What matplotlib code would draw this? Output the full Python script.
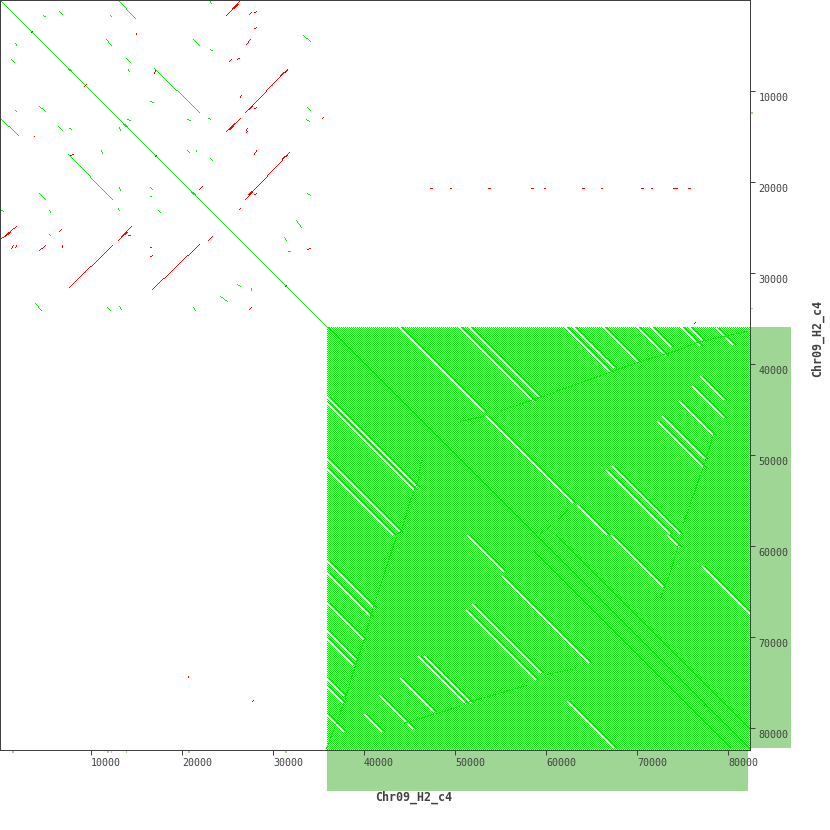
import numpy as np
import matplotlib
matplotlib.use("Agg")
import matplotlib.pyplot as plt
from matplotlib.patches import Rectangle
from matplotlib.transforms import ScaledTranslation

# all coordinates in bp: x0, y0, x1, y1
seq_len = 82417.5
block_start = 35950
repeat_period = 219.78  # spacing of the tandem repeat lines in the big block
bp_per_cell = repeat_period / 2
n_cells = 750

tick_values = [10000, 20000, 30000, 40000, 50000, 60000, 70000, 80000]
tick_labels = ["10000", "20000", "30000", "40000", "50000", "60000", "70000", "80000"]
seq_name = "Chr09_H2_c4"

forward_mirrored = [
    (13000, 70, 14840, 2050), (4760, 1650, 4950, 1830), (6590, 1210, 6890, 1540),
    (12090, 1650, 12270, 1830), (23080, 110, 23260, 370), (11720, 4290, 12270, 4950),
    (21250, 4290, 21870, 4950), (23150, 5420, 23370, 5600), (33330, 3850, 34070, 4580),
    (13850, 6480, 14290, 6920), (14100, 7690, 14250, 7880), (17030, 7580, 21870, 12380),
    (33770, 11790, 34070, 12090), (20590, 13080, 20880, 13260), (22890, 12970, 23080, 13110),
    (33630, 13080, 33960, 13370), (13990, 13110, 14290, 13260), (20590, 16590, 20770, 16780),
    (21570, 16590, 21620, 16670), (23080, 17400, 23370, 17690), (33770, 21250, 34070, 21500),
    (32530, 24180, 33150, 24950), (31250, 26080, 31500, 26450), (31680, 27620, 31870, 27660),
    (16590, 11100, 16850, 11280), (29880, 9450, 29960, 9380),
]
forward_extra = [(5420, 25750, 5600, 25930)]

reverse_hits = [
    (24910, 1720, 26370, 110), (27400, 1610, 27660, 1390), (28020, 1390, 28210, 1250),
    (28020, 3150, 28210, 3000), (14950, 3770, 15030, 3730), (27110, 4870, 27550, 4320),
    (25200, 6780, 25460, 6520), (26150, 6520, 26340, 6410), (26410, 10730, 26560, 10510),
    (27000, 12380, 31570, 7620), (28020, 11940, 28210, 11790), (24910, 14430, 26450, 13000),
    (27110, 14290, 27220, 14100), (27110, 14580, 27220, 14430), (35460, 13000, 35570, 12860),
    (28020, 16960, 28240, 16590), (27000, 21870, 31790, 16740), (28020, 21360, 28210, 21250),
    (21900, 20770, 22200, 20480), (26300, 23000, 26480, 22890), (22890, 26450, 23300, 26040),
    (16780, 31790, 21870, 26920), (33810, 27470, 34070, 27360), (27400, 33990, 27660, 33770),
    (70, 26300, 1760, 24840), (6520, 25460, 6810, 25200), (13000, 26450, 14470, 24840),
    (14100, 25930, 14360, 25860), (1210, 27330, 1500, 27030), (1650, 27180, 1830, 27030),
    (4320, 27550, 4950, 27030), (6850, 27030, 6850, 27250), (7620, 31570, 12380, 26960),
    (16590, 27180, 16660, 27180), (16590, 28210, 16810, 28060), (3770, 14950, 3840, 14950),
    (3450, 3590, 3590, 3450), (9340, 9480, 9480, 9340), (17070, 17210, 17210, 17070),
    (31360, 31500, 31500, 31360), (17030, 8100, 17120, 7700), (7700, 17120, 8100, 17030),
    (76370, 35500, 76390, 35400), (77450, 77500, 77500, 77450),
    (20660, 74450, 20680, 74300), (27800, 77080, 27820, 76950),
]
reverse_thick = [
    (25640, 920, 26080, 440), (25200, 14200, 25800, 13600), (27350, 12000, 27600, 11700),
    (30800, 8300, 31450, 7750), (27350, 21400, 27650, 21050), (31000, 17400, 31500, 17050),
    (13400, 26000, 13900, 25500), (500, 26000, 1000, 25600),
]

row_y = 20700
row_x = [47330, 49480, 53630, 58460, 59810, 63960, 66080, 70440, 71570, 74000, 75710]
row_w = [220, 110, 220, 220, 110, 220, 110, 220, 110, 450, 220]

# white gaps in the repeat lattice, each with a solid line beside it
gap_stripes = [
    (43773, 35971, 53114, 45421), (53480, 45788, 63004, 55312), (63370, 55495, 66667, 58608),
    (50549, 35971, 58608, 44030), (51465, 35971, 59158, 43663), (62088, 35971, 67216, 41099),
    (63004, 35971, 67582, 40550), (66300, 35971, 70257, 39927), (69964, 35971, 73077, 39084),
    (71429, 35971, 73627, 38169), (74908, 35971, 76923, 37986), (75824, 35971, 77290, 37436),
    (78755, 36081, 80586, 37912), (35898, 43663, 45788, 53553), (35898, 44323, 45421, 53846),
    (35898, 50366, 43956, 58425), (35898, 51465, 43224, 58791), (74542, 44066, 78388, 47912),
    (72711, 45788, 77472, 50549), (72161, 46337, 77290, 51465), (76923, 41392, 79670, 44139),
    (76007, 42491, 79487, 45971), (66667, 51649, 73627, 58608), (67216, 51282, 74725, 58791),
    (51282, 58901, 55312, 62930), (55129, 63370, 64652, 72894), (67216, 58901, 72894, 64578),
    (73260, 58901, 74542, 60183), (77106, 62271, 82417, 67582), (35898, 61721, 41026, 66850),
    (35898, 63003, 40660, 67765), (35898, 66300, 39927, 70329), (35898, 69414, 39011, 72527),
    (35898, 70146, 38828, 73077), (35898, 74542, 37912, 76557), (35898, 75458, 37729, 77289),
    (35898, 78571, 37912, 80586), (51282, 67033, 58975, 74725), (51832, 66483, 59341, 73992),
    (45971, 72161, 51282, 77472), (46520, 72161, 51649, 77289), (43956, 74542, 47802, 78388),
    (41758, 76374, 45421, 80036), (39927, 78571, 41941, 80586), (62271, 77106, 67399, 82234),
]
solid_stripes = [
    (block_start, block_start, seq_len, seq_len),
    (58608, 60623, 80220, 82234), (60989, 58901, 82417, 80329),
]
indel_curves = [
    [(55129, 45055), (58975, 43773), (66667, 41026), (70330, 39744), (73993, 38645), (76923, 37546), (82051, 36447)],
    [(50549, 46337), (53114, 45788)],
    [(46337, 50549), (45971, 52747), (45055, 54945), (44139, 58242), (43590, 58974), (41026, 66666),
     (39927, 70513), (38828, 73809), (37729, 77472), (35898, 82234)],
    [(59341, 58608), (60806, 57509), (63004, 55495), (64103, 54396)],
    [(59341, 58974), (55312, 63003), (53114, 65201)],
    [(78388, 47802), (77472, 50916), (75824, 55678), (75092, 57509)],
    [(74542, 59890), (73627, 62820), (72528, 65751)],
    [(60073, 74175), (63370, 73443)],
    [(50916, 77289), (57876, 75275)],
    [(44323, 79487), (50549, 77655)],
]
diagonal_blobs = [(13700, 13950), (21150, 21400), (7600, 7750)]

coverage_x = [1300, 11800, 12150, 13800, 20700, 31300]
coverage_y = [12300, 33800]

dark = "#404040"
band = "#a0d695"
WHITE, GREEN, RED = 0, 1, 2
palette = np.array([[255, 255, 255], [0, 240, 0], [255, 0, 0]], dtype=np.uint8)

# the dot plot is a grid of one-pixel cells, every hit sets the cells it runs through
canvas = np.zeros((n_cells, n_cells), dtype=int)


def to_cell(v):
    return int(np.clip(v / bp_per_cell, 0, n_cells - 1))


def draw(x0, y0, x1, y1, value, shift=0):
    i0, j0, i1, j1 = to_cell(x0), to_cell(y0), to_cell(x1), to_cell(y1)
    n = max(abs(i1 - i0), abs(j1 - j0)) + 1
    ii = np.round(np.linspace(i0, i1, n)).astype(int) + shift
    jj = np.round(np.linspace(j0, j1, n)).astype(int)
    keep = (ii >= 0) & (ii < n_cells)
    canvas[jj[keep], ii[keep]] = value


def draw_on_even_line(x0, y0, x1, y1, value, shift=0):
    # stripes inside the block sit on the x - y lines of the lattice
    i0, j0 = to_cell(x0), to_cell(y0)
    length = to_cell(x1) - i0
    if (i0 - j0) % 2:
        i0 += 1
    for step in range(length):
        i, j = i0 + step + shift, j0 + step
        if 0 <= i < n_cells and 0 <= j < n_cells:
            canvas[j, i] = value


# repeat lattice
first = to_cell(block_start)
n_lines = (n_cells - first) // 2
for k in range(-n_lines, n_lines + 1):
    x0 = max(first, first + 2 * k)
    y0 = x0 - 2 * k
    d = n_cells - 1 - max(x0, y0)
    draw((x0 + 0.5) * bp_per_cell, (y0 + 0.5) * bp_per_cell,
         (x0 + d + 0.5) * bp_per_cell, (y0 + d + 0.5) * bp_per_cell, GREEN)

for s in gap_stripes:
    draw_on_even_line(*s, WHITE)
    draw_on_even_line(*s, GREEN, shift=3)
for s in solid_stripes:
    draw_on_even_line(*s, GREEN, shift=1)
for curve in indel_curves:
    for (xa, ya), (xb, yb) in zip(curve[:-1], curve[1:]):
        draw(xa, ya, xb, yb, GREEN)

# small repeats outside the block
draw(0, 0, block_start, block_start, GREEN)
for a, b in diagonal_blobs:
    draw(a, a, b, b, GREEN, shift=1)
    draw(a, a, b, b, GREEN, shift=-1)
for s in forward_mirrored:
    draw(*s, GREEN)
    draw(s[1], s[0], s[3], s[2], GREEN)
for s in forward_extra:
    draw(*s, GREEN)
for s in reverse_hits:
    draw(*s, RED)
for s in reverse_thick:
    draw(*s, RED)
    draw(*s, RED, shift=1)
for x, w in zip(row_x, row_w):
    draw(x, row_y, x + w, row_y, RED)

fig = plt.figure(figsize=(8.3, 8.3), dpi=100)
# a hair under 750 px, otherwise the image comes out 751 wide and repeats a row and a column
ax = fig.add_axes([0, (80 + 0.001) / 830, 749.998 / 830, 749.998 / 830])
ax.imshow(palette[canvas], interpolation="none", aspect="auto",
          extent=(0, seq_len, seq_len, 0), zorder=1)

# coverage bands
band_kw = dict(facecolor=band, edgecolor="none", clip_on=False, zorder=0)
ax.add_patch(Rectangle((block_start - 50, seq_len + 130), seq_len - block_start - 170, 4390, **band_kw))
ax.add_patch(Rectangle((seq_len + 130, block_start - 50), 4390, seq_len - block_start - 170, **band_kw))
for x in coverage_x:
    ax.add_patch(Rectangle((x, seq_len + 80), 200, 300, **band_kw))
for y in coverage_y:
    ax.add_patch(Rectangle((seq_len + 80, y), 300, 200, **band_kw))

for s in ax.spines.values():
    s.set_color(dark)
    s.set_linewidth(0.72)

ax.set_xticks(tick_values)
ax.set_xticklabels(tick_labels, family="DejaVu Sans Mono", fontsize=7.2, color=dark, ha="left")
ax.yaxis.tick_right()
ax.set_yticks(tick_values)
ax.set_yticklabels(tick_labels, family="DejaVu Sans Mono", fontsize=7.2, color=dark, va="center")
ax.tick_params(axis="both", length=3.6, width=0.72, color=dark, pad=2.5)
shift = ScaledTranslation(0, -7 / 100, fig.dpi_scale_trans)
for t in ax.get_yticklabels():
    t.set_transform(t.get_transform() + shift)

fig.text(375 / 830, 1 - 797 / 830, seq_name, family="DejaVu Sans Mono", fontsize=8.4, weight="bold",
         color=dark, ha="left", va="center")
fig.text(817 / 830, 1 - 338 / 830, seq_name, family="DejaVu Sans Mono", fontsize=8.4, weight="bold",
         color=dark, ha="center", va="center", rotation=90)

fig.savefig("out.png", dpi=100)
